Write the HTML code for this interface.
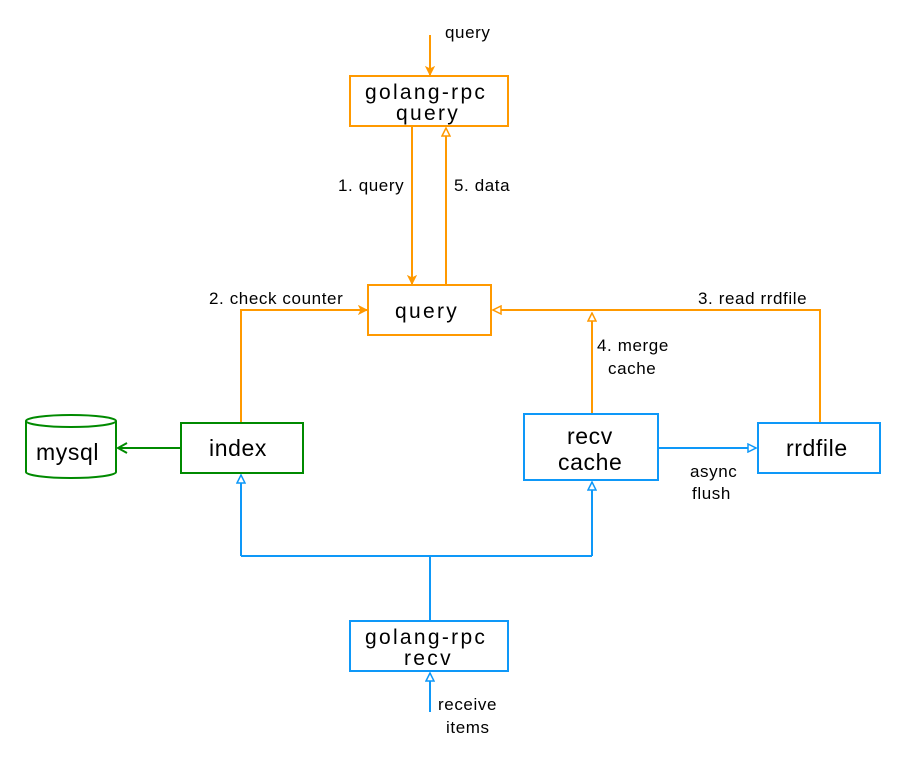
<!DOCTYPE html>
<html><head><style>html,body{margin:0;padding:0;background:#fff}</style></head><body>
<svg width="901" height="757" xmlns="http://www.w3.org/2000/svg" font-family="Liberation Sans, sans-serif">
<defs>
<marker id="of" markerWidth="10" markerHeight="10" refX="9" refY="5" orient="auto" markerUnits="userSpaceOnUse"><path d="M1,1 L9,5 L1,9 L3,5 Z" fill="#f90" stroke="#f90" stroke-width="1"/></marker>
<marker id="oo" markerWidth="10" markerHeight="10" refX="9" refY="5" orient="auto" markerUnits="userSpaceOnUse"><path d="M1,1 L9,5 L1,9 Z" fill="#fff" stroke="#f90" stroke-width="1.5"/></marker>
<marker id="bo" markerWidth="10" markerHeight="10" refX="9" refY="5" orient="auto" markerUnits="userSpaceOnUse"><path d="M1,1 L9,5 L1,9 Z" fill="#fff" stroke="#0e98f8" stroke-width="1.5"/></marker>
<marker id="ga" markerWidth="12" markerHeight="12" refX="10" refY="6" orient="auto" markerUnits="userSpaceOnUse"><path d="M1,1 L10,6 L1,11" fill="none" stroke="#008a00" stroke-width="2"/></marker>
</defs>
<g fill="none" stroke-width="2">
<g stroke="#f90">
<line x1="430" y1="35" x2="430" y2="75" marker-end="url(#of)"/>
<line x1="412" y1="127" x2="412" y2="284" marker-end="url(#of)"/>
<line x1="446" y1="284" x2="446" y2="128" marker-end="url(#oo)"/>
<polyline points="241,422 241,310 367,310" marker-end="url(#of)"/>
<polyline points="820,422 820,310 493,310" marker-end="url(#oo)"/>
<line x1="592" y1="413" x2="592" y2="313" marker-end="url(#oo)"/>
<rect x="350" y="76" width="158" height="50"/>
<rect x="368" y="285" width="123" height="50"/>
</g>
<g stroke="#008a00">
<line x1="180" y1="448" x2="118" y2="448" marker-end="url(#ga)"/>
<rect x="181" y="423" width="122" height="50"/>
<path d="M26,421 L26,472 A45,6 0 0 0 116,472 L116,421"/>
<ellipse cx="71" cy="421" rx="45" ry="6"/>
</g>
<g stroke="#0e98f8">
<polyline points="430,620 430,556"/>
<polyline points="241,556 592,556"/>
<line x1="241" y1="556" x2="241" y2="475" marker-end="url(#bo)"/>
<line x1="592" y1="556" x2="592" y2="482" marker-end="url(#bo)"/>
<line x1="659" y1="448" x2="756" y2="448" marker-end="url(#bo)"/>
<line x1="430" y1="712" x2="430" y2="673" marker-end="url(#bo)"/>
<rect x="524" y="414" width="134" height="66"/>
<rect x="758" y="423" width="122" height="50"/>
<rect x="350" y="621" width="158" height="50"/>
</g>
</g>
<g fill="#000" font-size="21" letter-spacing="2.3">
<text x="365" y="99">golang-rpc</text>
<text x="396" y="120">query</text>
<text x="395" y="318">query</text>
<text x="365" y="644">golang-rpc</text>
<text x="404" y="665">recv</text>
</g>
<g fill="#000" font-size="23" letter-spacing="0.6">
<text x="209" y="456">index</text>
<text x="36" y="460">mysql</text>
<text x="567" y="444">recv</text>
<text x="558" y="470">cache</text>
<text x="786" y="456">rrdfile</text>
</g>
<g fill="#000" font-size="17" letter-spacing="0.6">
<text x="445" y="38">query</text>
<text x="338" y="191">1. query</text>
<text x="454" y="191">5. data</text>
<text x="209" y="304">2. check counter</text>
<text x="698" y="304">3. read rrdfile</text>
<text x="597" y="351">4. merge</text>
<text x="608" y="374">cache</text>
<text x="690" y="477">async</text>
<text x="692" y="499">flush</text>
<text x="438" y="710">receive</text>
<text x="446" y="733">items</text>
</g>
</svg>
</body></html>
